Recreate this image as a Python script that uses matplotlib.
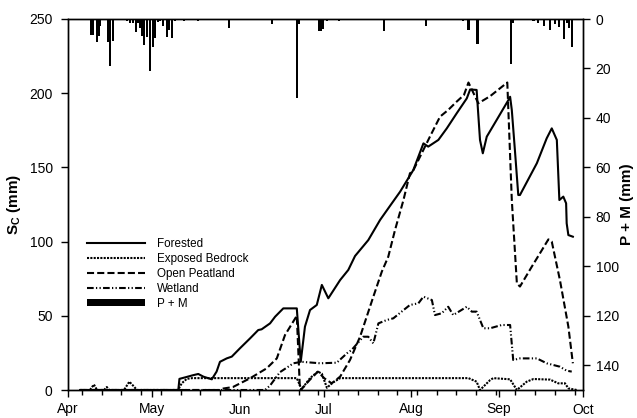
import numpy as np
import matplotlib
matplotlib.use("Agg")
import matplotlib.pyplot as plt
from matplotlib.lines import Line2D
from matplotlib.patches import Patch

plt.rcParams['font.family'] = ['Liberation Sans', 'DejaVu Sans']
plt.rcParams['mathtext.fontset'] = 'custom'
plt.rcParams['mathtext.rm'] = 'Liberation Sans'
plt.rcParams['mathtext.bf'] = 'Liberation Sans:bold'

# Days are counted from 1 April
month_labels = ['Apr', 'May', 'Jun', 'Jul', 'Aug', 'Sep', 'Oct']
month_days = [0, 30, 61, 91, 122, 153, 183]

# Storage capacity, Forested (mm)
forest_day = [4.3, 39.2, 39.6, 41.6, 44.5, 46.3, 48.1, 51.1, 52.8, 54.0, 56.4, 58.2, 61.1, 64.7,
              67.6, 68.8, 71.8, 73.6, 76.5, 81.3, 82.7, 84.2, 86.0, 88.4, 90.2, 92.5, 96.7, 99.6,
              102.0, 106.7, 110.9, 114.4, 118.0, 122.7, 126.3, 128.0, 131.6, 134.6, 138.1, 141.7,
              142.9, 145.2, 146.4, 147.4, 148.8, 152.3, 156.5, 157.1, 157.7, 158.8, 160.0, 160.6,
              166.6, 170.1, 171.9, 173.7, 174.6, 176.0, 177.0, 177.2, 177.8, 179.4]
forest_sc = [0, 0, 7.5, 8.5, 10, 10.8, 9, 7.2, 12.4, 19, 21.3, 22.5, 28.1, 34.8,
             40.4, 40.9, 44.9, 49.4, 55, 55, 19, 42.7, 53.9, 57.3, 70.8, 61.8, 74.1, 80.9,
             90.3, 101, 114.6, 124, 133.6, 148.2, 166.2, 164, 168.5, 176.3, 186.4, 196.5,
             202.5, 202.2, 168.5, 159.5, 170.7, 181.9, 195.4, 197.6, 188.7, 161.7, 131.4, 131.4,
             152.8, 169.6, 176.3, 168.5, 128, 130.3, 125.8, 112.3, 104.4, 103.3]

# Exposed Bedrock
bedrock_day = [4.3, 7.8, 9.2, 10.3, 12.8, 13.8, 14.6, 19.9, 21.8, 23.1, 24.5, 39.1, 40.4, 42.2,
               44.1, 81.3, 83.0, 86.0, 88.8, 90.2, 92.0, 94.1, 96.7, 142.3, 145.2, 146.4, 150.0,
               151.1, 157.1, 159.5, 163.0, 165.4, 171.3, 174.2, 176.6, 177.8, 180.8]
bedrock_sc = [0, 0, 3.7, 0, 0, 2, 0, 0, 5.6, 3, 0, 0, 4.5, 7.5,
              8, 8, 0.5, 8, 12.4, 11, 1.5, 5, 8, 8, 5.6, 0, 6.7,
              8, 7.2, 0, 5.6, 7.4, 7, 4.5, 4.5, 1.1, 0]

# Open Peatland
peat_day = [4.3, 54.0, 55.2, 58.6, 64.7, 70.6, 74.2, 77.1, 81.3, 82.4, 82.7, 86.0, 88.8, 91.0,
            93.7, 96.7, 100.2, 103.8, 108.5, 111.5, 113.8, 116.2, 119.2, 121.5, 122.7, 128.6,
            132.2, 135.1, 138.1, 140.7, 142.3, 145.8, 150.0, 156.1, 157.7, 159.5, 160.6, 164.8,
            167.7, 170.7, 171.9, 174.8, 177.8, 179.4]
peat_sc = [0, 0, 1, 2, 7.9, 14.6, 21.3, 37, 50, 1, 0, 7, 12.4, 8,
           4.5, 9, 20.2, 36, 62.9, 79.7, 89.8, 107.8, 128, 146, 148, 170.7,
           184.2, 188.7, 194.3, 198.8, 207.2, 193.2, 198, 207.2, 128, 71.9, 69.7, 83.1,
           92.1, 101.5, 100, 74.1, 42.7, 18]

# Wetland
wet_day = [4.3, 70.0, 71.8, 75.3, 80.1, 83.0, 89.6, 95.5, 99.1, 100.8, 104.9, 106.7, 108.5,
           110.3, 113.3, 115.6, 121.5, 124.5, 126.3, 129.3, 130.4, 132.8, 135.1, 136.9, 141.7,
           143.5, 145.2, 147.6, 150.0, 154.1, 157.1, 158.2, 160.6, 166.6, 170.1, 174.8, 177.2,
           179.0]
wet_sc = [0, 0, 3, 12, 18, 19, 18, 18.4, 24.7, 27, 35.9, 35.9, 31.4,
          44.9, 47.2, 48.3, 57.3, 58.4, 62.9, 60.6, 50.5, 51.7, 56.1, 50.5, 56.1,
          52.8, 52.8, 41.6, 41.6, 43.8, 43.8, 20.2, 21.3, 21.3, 18, 15.7, 13,
          12.4]

# Daily precipitation + snowmelt (mm)
pm_day = [8.2, 8.9, 10.2, 10.9, 11.4, 12.0, 14.2, 15.0, 16.1, 17.4, 18.5, 19.5, 21.0, 22.0,
          23.1, 24.1, 24.9, 25.6, 26.2, 27.1, 28.0, 29.2, 30.2, 31.0, 32.0, 32.7, 33.9, 35.1,
          36.0, 37.1, 37.9, 41.1, 46.3, 57.1, 72.4, 77.1, 81.3, 82.1, 86.6, 89.2, 89.9, 90.6,
          91.9, 96.3, 112.3, 127.2, 140.3, 142.3, 145.5, 157.3, 158.2, 165.4, 167.1, 169.2,
          171.3, 173.1, 174.6, 176.4, 177.2, 178.1, 179.2]
pm_mm = [6.3, 6.6, 9.4, 6.7, 2.7, 0.5, 9.4, 18.9, 9.0, 0.5, 0.5, 0.5, 0.8, 1.5,
         1.5, 5.3, 1.5, 3.6, 6.7, 10.4, 7.3, 21.2, 11.5, 7.7, 1.2, 1.0, 2.7, 7.3,
         4.3, 7.7, 1.0, 0.7, 0.7, 3.6, 2.0, 0.5, 31.9, 1.9, 0.5, 5.0, 5.0, 4.0,
         1.0, 1.0, 4.7, 3.0, 1.0, 4.6, 10.1, 18.0, 1.6, 0.8, 1.5, 2.7,
         4.6, 1.9, 3.2, 8.0, 1.5, 3.6, 11.5]

lw = 1.5
styles = {
    'Forested': '-',
    'Exposed Bedrock': (0, (1, 0.6)),
    'Open Peatland': (0, (3.4, 1.5)),
    'Wetland': (0, (3.2, 1.1, 0.6, 1.1, 0.6, 1.1)),
}

fig = plt.figure(figsize=(6.37, 4.18), dpi=100)
ax = fig.add_axes([68 / 637, 28 / 418, 515 / 637, 371 / 418])
ax2 = ax.twinx()

ax.plot(forest_day, forest_sc, color='black', lw=lw, ls=styles['Forested'])
ax.plot(bedrock_day, bedrock_sc, color='black', lw=lw, ls=styles['Exposed Bedrock'])
ax.plot(peat_day, peat_sc, color='black', lw=lw, ls=styles['Open Peatland'])
ax.plot(wet_day, wet_sc, color='black', lw=lw, ls=styles['Wetland'])

ax2.bar(pm_day, pm_mm, width=0.75, color='black', linewidth=0)

ax.set_xlim(0, 183)
ax.set_ylim(0, 250)
ax2.set_ylim(150, 0)

ax.set_xticks(month_days)
ax.set_xticklabels(month_labels)
ax.set_xticks(np.arange(5, 183, 7), minor=True)
ax.set_yticks(np.arange(0, 251, 50))
ax2.set_yticks(np.arange(0, 141, 20))

ax.tick_params(axis='both', which='major', direction='out', length=5, width=1,
               labelsize=10, pad=6)
ax.tick_params(axis='x', which='minor', direction='out', length=3.5, width=1)
ax.tick_params(axis='x', which='major', pad=4)
ax2.tick_params(axis='y', direction='out', length=5, width=1, labelsize=10, pad=4)

for a in (ax, ax2):
    for sp in a.spines.values():
        sp.set_linewidth(1)

ax.set_ylabel(r'$\mathbf{S_C}$ (mm)', fontsize=11, fontweight='bold')
ax.yaxis.set_label_coords(-0.087, 0.5)
ax2.set_ylabel('P + M (mm)', fontsize=11, fontweight='bold')
ax2.yaxis.set_label_coords(1.072, 0.5)

handles = [Line2D([], [], color='black', lw=lw, ls=styles[k]) for k in styles]
handles.append(Patch(facecolor='black', edgecolor='none'))
labels = list(styles) + ['P + M']
ax.legend(handles, labels, loc='upper left', bbox_to_anchor=(0.037, 0.41),
          frameon=False, fontsize=8.4, handlelength=5.0, handletextpad=1.0,
          labelspacing=0.25, borderaxespad=0, borderpad=0, handleheight=0.6)

fig.savefig('out.png', dpi=100)
